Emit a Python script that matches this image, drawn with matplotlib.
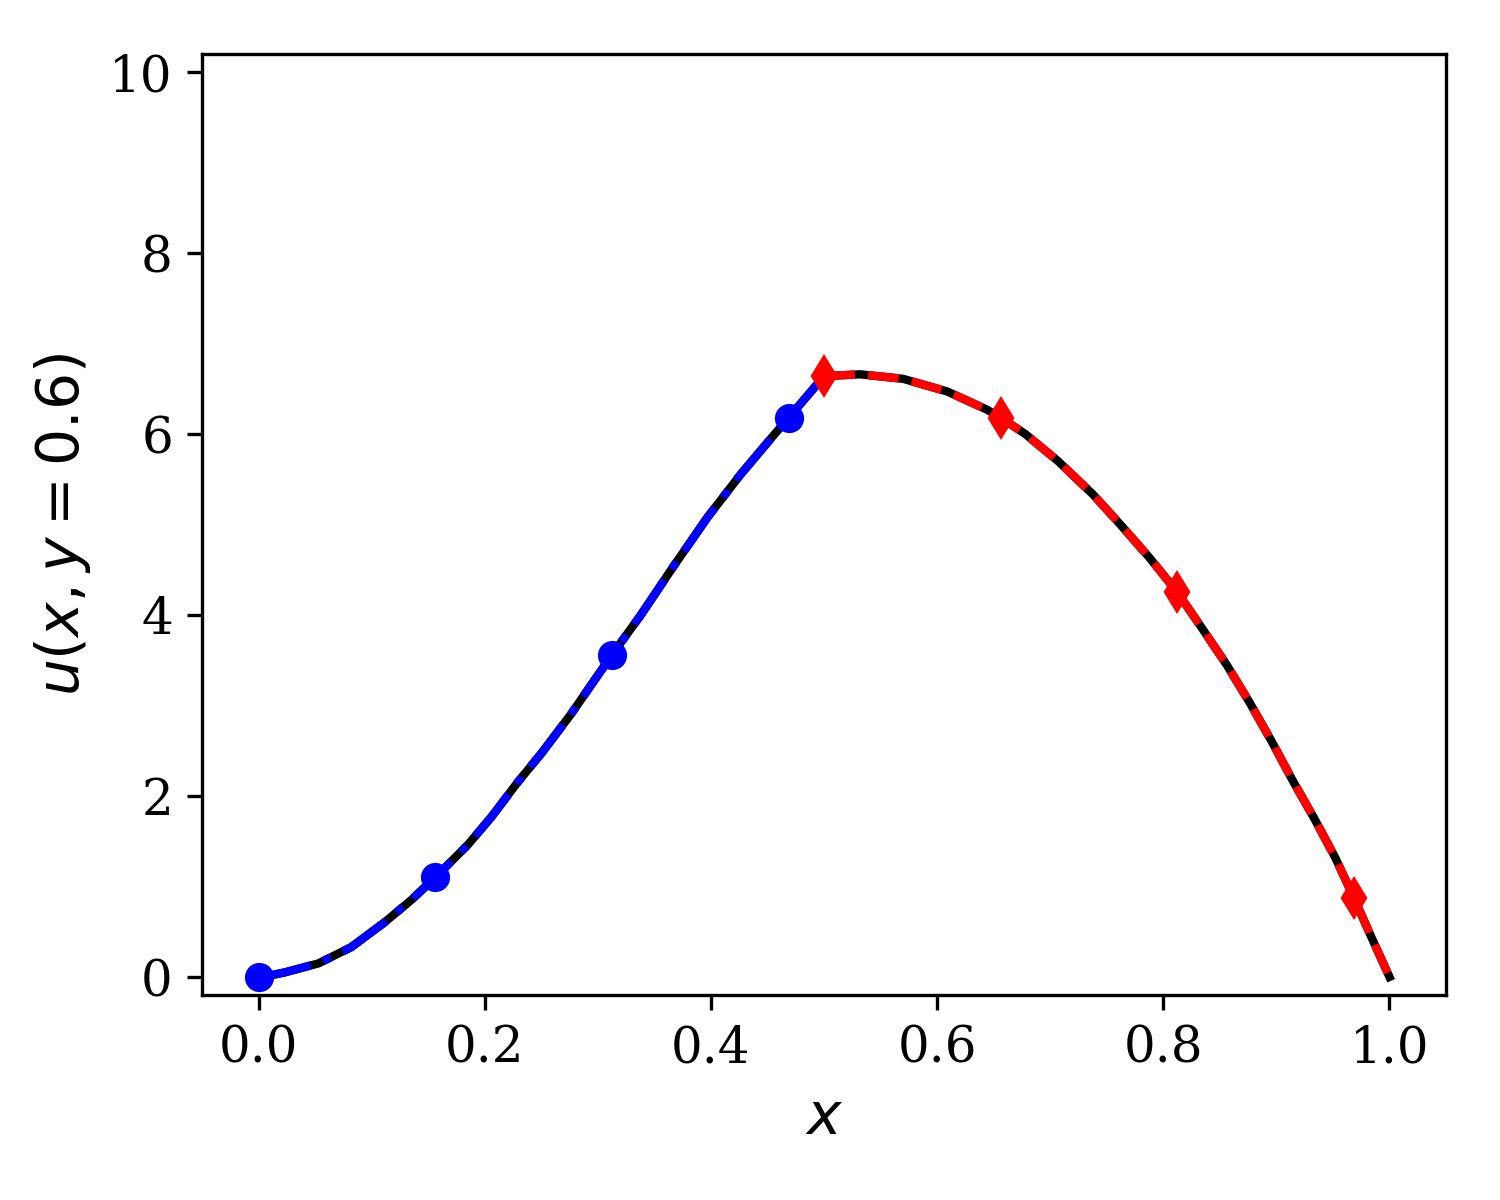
import numpy as np
import matplotlib
matplotlib.use('Agg')
import matplotlib.pyplot as plt

plt.rcParams['font.family'] = 'serif'
plt.rcParams['font.serif'] = ['DejaVu Serif']

# left sub-domain (x in [0, 0.5])
xLeft = [0.0, 0.0115, 0.023, 0.053, 0.082, 0.111, 0.135, 0.15625, 0.185, 0.206, 0.229,
         0.250, 0.276, 0.3125, 0.338, 0.367, 0.397, 0.426, 0.455, 0.46875, 0.5]
uLeft = [0.0, 0.02, 0.05, 0.15, 0.33, 0.60, 0.85, 1.10, 1.46, 1.77, 2.15,
         2.47, 2.90, 3.56, 4.00, 4.54, 5.08, 5.55, 5.98, 6.18, 6.64]
markLeft = [0, 7, 13, 19]

# right sub-domain (x in [0.5, 1])
xRight = [0.5, 0.532, 0.570, 0.609, 0.644, 0.65625, 0.678, 0.707, 0.738, 0.762,
          0.788, 0.8125, 0.835, 0.856, 0.876, 0.896, 0.914, 0.934, 0.952,
          0.96875, 0.984, 1.0]
uRight = [6.64, 6.66, 6.61, 6.47, 6.27, 6.18, 6.00, 5.70, 5.33, 5.00,
          4.63, 4.25, 3.84, 3.45, 3.04, 2.60, 2.18, 1.74, 1.32,
          0.87, 0.44, 0.0]
markRight = [0, 5, 11, 19]

# exact solution, whole line
xExact = xLeft + xRight[1:]
uExact = uLeft + uRight[1:]

fig = plt.figure(figsize=(5, 4), dpi=300)
ax = fig.add_axes([0.1347, 0.1708, 0.964 - 0.1347, 0.955 - 0.1708])

ax.plot(xExact, uExact, 'k-', lw=2)
ax.plot(xLeft, uLeft, 'b-.', lw=2, marker='o', ms=6, markevery=markLeft)
ax.plot(xRight, uRight, 'r--', lw=2, marker='d', ms=6, markevery=markRight)

ax.set_ylim(-0.2, 10.2)
ax.set_yticks([0, 2, 4, 6, 8, 10])
ax.set_xticks([0.0, 0.2, 0.4, 0.6, 0.8, 1.0])
ax.tick_params(labelsize=12)
ax.set_xlabel('$x$', fontsize=14)
ax.set_ylabel('$u(x,y=0.6)$', fontsize=14)

fig.savefig('out.png', dpi=300)
